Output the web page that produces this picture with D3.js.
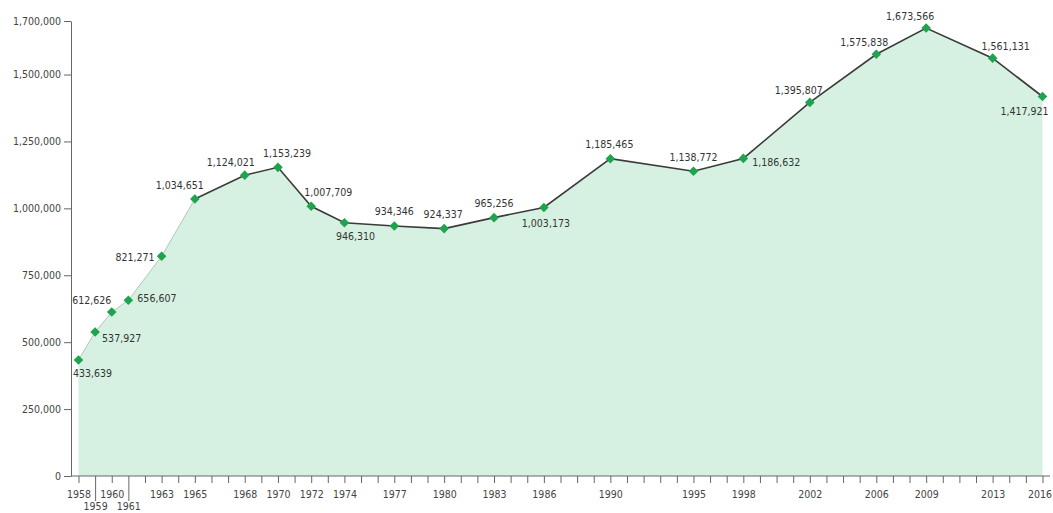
<!DOCTYPE html>
<html lang="en">
<head>
<meta charset="utf-8">
<title>Chart</title>
<script src="https://cdn.jsdelivr.net/npm/d3@7/dist/d3.min.js"></script>
<style>
  body { margin: 0; background: #fff; }
  svg text { font-family: "DejaVu Sans Condensed", "Liberation Sans Narrow", sans-serif; }
  .axis text { font-size: 10.5px; fill: #444; }
  .axis line, .axis path { stroke: #666; }
  .val { font-size: 10.5px; fill: #333; }
</style>
</head>
<body>
<svg width="1053" height="513"></svg>
<script>
// data
var years = [1958, 1959, 1960, 1961, 1963, 1965, 1968, 1970, 1972, 1974, 1977,
             1980, 1983, 1986, 1990, 1995, 1998, 2002, 2006, 2009, 2013, 2016];
var values = [433639, 537927, 612626, 656607, 821271, 1034651, 1124021, 1153239,
              1007709, 946310, 934346, 924337, 965256, 1003173, 1185465, 1138772,
              1186632, 1395807, 1575838, 1673566, 1561131, 1417921];
var yTicks = [0, 250000, 500000, 750000, 1000000, 1250000, 1500000, 1700000];
var lowLabelYears = [1959, 1961];

// where each value label sits relative to its point: [anchor, dx, dy]
var labelPos = [
  ["middle", 14, 17], ["start", 7, 10], ["middle", -20, -8], ["start", 9, 2],
  ["end", -7, 5], ["middle", -15, -10], ["middle", -14, -9], ["middle", 9, -10],
  ["middle", 17, -10], ["middle", 11, 17], ["middle", 0, -11], ["middle", -1, -11],
  ["middle", 0, -11], ["middle", 2, 19], ["middle", -1, -11], ["middle", 0, -10],
  ["start", 9, 8], ["middle", -11, -8], ["middle", -12, -8], ["middle", -16, -8],
  ["middle", 13, -8], ["middle", -18, 19]
];

var data = years.map(function(y, i) { return {year: y, value: values[i], pos: labelPos[i]}; });

var svg = d3.select("svg");
var x = d3.scaleLinear().domain([1958, 2016]).range([78.5, 1042.5]);
var y = d3.scaleLinear().domain([0, 1700000]).range([476, 21]);
var fmt = d3.format(",");

// area
var area = d3.area()
  .x(function(d) { return x(d.year); })
  .y0(y(0))
  .y1(function(d) { return y(d.value); });

svg.append("path")
  .datum(data)
  .attr("d", area)
  .attr("fill", "#d6f1e1");

// line, lighter before 1965
var line = d3.line()
  .x(function(d) { return x(d.year); })
  .y(function(d) { return y(d.value); });

svg.append("path")
  .datum(data.filter(function(d) { return d.year <= 1965; }))
  .attr("d", line)
  .attr("fill", "none")
  .attr("stroke", "#b8c4bc")
  .attr("stroke-width", 1);

svg.append("path")
  .datum(data.filter(function(d) { return d.year >= 1965; }))
  .attr("d", line)
  .attr("fill", "none")
  .attr("stroke", "#3b3b3b")
  .attr("stroke-width", 1.6);

// y axis
var yAxis = svg.append("g")
  .attr("class", "axis")
  .attr("transform", "translate(71,0)")
  .call(d3.axisLeft(y).tickValues(yTicks).tickFormat(fmt).tickSize(7).tickSizeOuter(0));
yAxis.selectAll("text").attr("x", -10);

// x axis
var xAxis = svg.append("g")
  .attr("class", "axis")
  .attr("transform", "translate(0,476)")
  .call(d3.axisBottom(x)
    .tickValues(d3.range(1958, 2017))
    .tickFormat(function(d) { return years.indexOf(d) >= 0 ? d : ""; })
    .tickSize(7)
    .tickSizeOuter(0));
xAxis.select(".domain").remove();
xAxis.append("line")
  .attr("x1", 71).attr("x2", 1050)
  .attr("stroke", "#666");
xAxis.selectAll(".tick text").attr("y", 15).attr("dy", "0.71em");
xAxis.selectAll(".tick")
  .filter(function(d) { return lowLabelYears.indexOf(d) >= 0; })
  .each(function() {
    d3.select(this).select("line").attr("y2", 25);
    d3.select(this).select("text").attr("y", 27);
  });
xAxis.selectAll(".tick")
  .filter(function(d) { return d === 2016; })
  .select("text").attr("text-anchor", "end").attr("x", 9);

// markers
svg.selectAll(".pt")
  .data(data)
  .enter()
  .append("path")
  .attr("class", "pt")
  .attr("d", d3.symbol(d3.symbolSquare, 46))
  .attr("transform", function(d) { return "translate(" + x(d.year) + "," + y(d.value) + ") rotate(45)"; })
  .attr("fill", "#1ea34f");

// value labels
svg.selectAll(".val")
  .data(data)
  .enter()
  .append("text")
  .attr("class", "val")
  .attr("x", function(d) { return x(d.year) + d.pos[1]; })
  .attr("y", function(d) { return y(d.value) + d.pos[2]; })
  .attr("text-anchor", function(d) { return d.pos[0]; })
  .text(function(d) { return fmt(d.value); });
</script>
</body>
</html>
